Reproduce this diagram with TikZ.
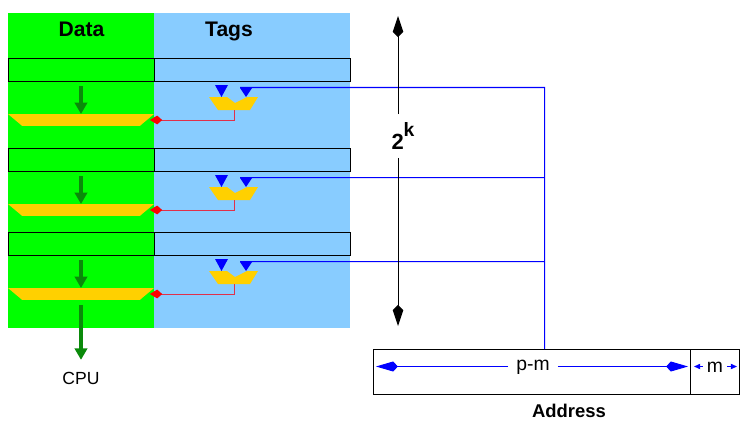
\documentclass[tikz,border=0pt]{standalone}
\usepackage{fontspec}
\setmainfont{Liberation Sans}
\usetikzlibrary{arrows.meta,shapes.geometric}
\definecolor{datagreen}{HTML}{00FF00}
\definecolor{tagblue}{HTML}{88CCFF}
\definecolor{muxyellow}{HTML}{FFD000}
\definecolor{arrgreen}{HTML}{0A8A0A}
\definecolor{linered}{HTML}{E0304A}
\begin{document}
\begin{tikzpicture}[
  x=0.02cm, y=-0.02cm,
  % Node styles
  databack/.style={rectangle, fill=datagreen, minimum width=2.92cm, minimum height=6.3cm,
    inner sep=0pt, outer sep=0pt},
  tagback/.style={rectangle, fill=tagblue, minimum width=3.92cm, minimum height=6.3cm,
    inner sep=0pt, outer sep=0pt},
  datarow/.style={rectangle, draw=black, line width=0.5pt, minimum width=2.92cm,
    minimum height=0.46cm, inner sep=0pt, outer sep=0pt},
  tagrow/.style={rectangle, draw=black, line width=0.5pt, minimum width=3.92cm,
    minimum height=0.46cm, inner sep=0pt, outer sep=0pt},
  datamux/.style={trapezium, shape border rotate=180, trapezium stretches body=true,
    trapezium left angle=40, trapezium right angle=40, fill=muxyellow,
    minimum width=2.92cm, inner xsep=1pt, inner ysep=0pt, outer sep=0pt,
    execute at begin node={\rule{0pt}{6.8pt}}},
  addrbox/.style={rectangle, draw=black, line width=0.5pt, minimum height=0.9cm,
    inner sep=0pt, outer sep=0pt},
  txt/.style={font=\fontsize{10}{12}\selectfont, inner sep=0pt},
  fieldtxt/.style={font=\fontsize{11}{12}\selectfont},
  head/.style={font=\fontsize{12}{14}\bfseries, inner sep=0pt, anchor=base},
  addrhead/.style={font=\fontsize{10.5}{12}\bfseries, inner sep=0pt},
  % Connector styles
  grnarr/.style={-{Triangle[length=6.5pt,width=7pt]}, draw=arrgreen, line width=1.9pt},
  redarr/.style={-{Kite[length=7pt,width=5pt,inset=2.8pt,color=red]}, draw=linered, line width=0.57pt},
  bus/.style={draw=blue, line width=0.57pt},
  sizearr/.style={-{Kite[length=12pt,width=6pt,inset=3pt]}, draw=black, line width=0.57pt},
  pmarr/.style={-{Kite[length=12.5pt,width=5.7pt,inset=2.8pt]}, draw=blue, line width=0.57pt},
  marr/.style={-{Triangle[length=3.5pt,width=3pt]}, draw=blue, line width=0.57pt},
  tagmux/.pic={
    \fill[muxyellow] (-25,0) -- (-7,0) -- (1,6) -- (13,0) -- (24,0) -- (16,13) -- (-16,13) -- cycle;
    \fill[blue] (-19,-12) -- (-6,-12) -- (-12.5,0) -- cycle;
    \fill[blue] (6,-9) -- (18,-9) -- (12,0) -- cycle;
    \coordinate (-out) at (0,13);
    \coordinate (-in) at (6,-9.5);
  },
]

% === Background columns ===
\useasboundingbox (0,0) rectangle (748,426);
\node[databack] (databg) at (81,170.5) {};
\node[tagback] (tagbg) at (252,170.5) {};

% === Column headers ===
\node[head] (hdata) at (81.5,36) {Data};
\node[head] (htags) at (229,36) {Tags};

% === Rows ===
\node[datarow] (dr1) at (81,69.5) {};
\node[tagrow] (tr1) at (252,69.5) {};
\node[datarow] (dr2) at (81,159.5) {};
\node[tagrow] (tr2) at (252,159.5) {};
\node[datarow] (dr3) at (81,243.5) {};
\node[tagrow] (tr3) at (252,243.5) {};

% === Data selectors ===
\node[datamux] (dm1) at (81,120) {};
\node[datamux] (dm2) at (81,210) {};
\node[datamux] (dm3) at (81,294) {};

% === Tag comparators ===
\pic (tm1) at (234,97) {tagmux};
\pic (tm2) at (234,187) {tagmux};
\pic (tm3) at (234,271) {tagmux};

% === Address ===
\node[addrbox, minimum width=6.34cm] (addrp) at (531.5,371.5) {};
\node[addrbox, minimum width=0.98cm] (addrm) at (714.5,371.5) {};
\node[fieldtxt, inner sep=4.5pt] (pmlabel) at (533,367) {p-m};
\node[fieldtxt, inner sep=2.2pt] (mlabel) at (715,367) {m};
\node[addrhead] (addrlabel) at (569,411) {Address};
\node[txt, inner sep=6.6pt] (cpulabel) at (81,378) {CPU};
\node[font=\fontsize{12.5}{14}\bfseries, inner sep=4.7pt] (twok) at (403,136) {2\raisebox{1.1ex}{\fontsize{11}{12}\selectfont k}};

% Free ends
\coordinate (ga1) at (81,86);
\coordinate (ga2) at (81,176);
\coordinate (ga3) at (81,260);
\coordinate (busA) at (544.5,87.5);
\coordinate (busB) at (544.5,177.5);
\coordinate (busC) at (544.5,261.5);
\coordinate (sizeT) at (398,16);
\coordinate (sizeB) at (398,326);
\coordinate (pmL) at (376,366.5);
\coordinate (pmR) at (688,366.5);
\coordinate (mL) at (694,366.5);
\coordinate (mR) at (737,366.5);

% === Arrows: rows to selectors ===
\draw[grnarr] (ga1) -- (dm1.north);
\draw[grnarr] (ga2) -- (dm2.north);
\draw[grnarr] (ga3) -- (dm3.north);
\draw[grnarr, shorten <=2.8pt] (dm3.south) -- (cpulabel.north);

% === Arrows: comparators to selectors ===
\draw[redarr, shorten >=1.7pt] (tm1-out) |- (dm1.east);
\draw[redarr, shorten >=1.7pt] (tm2-out) |- (dm2.east);
\draw[redarr, shorten >=1.7pt] (tm3-out) |- (dm3.east);

% === Address bus ===
\draw[bus] (tm1-in) -- (busA) -- (busA |- addrp.north);
\draw[bus] (tm2-in) -- (busB);
\draw[bus] (tm3-in) -- (busC);

% === Size arrow ===
\draw[sizearr] (sizeT |- twok.north) -- (sizeT);
\draw[sizearr] (sizeB |- twok.south) -- (sizeB);

% === Address field arrows ===
\draw[pmarr] (pmlabel.west |- pmL) -- (pmL);
\draw[pmarr] (pmlabel.east |- pmR) -- (pmR);
\draw[marr] (mlabel.west |- mL) -- (mL);
\draw[marr] (mlabel.east |- mR) -- (mR);

\end{tikzpicture}
\end{document}
